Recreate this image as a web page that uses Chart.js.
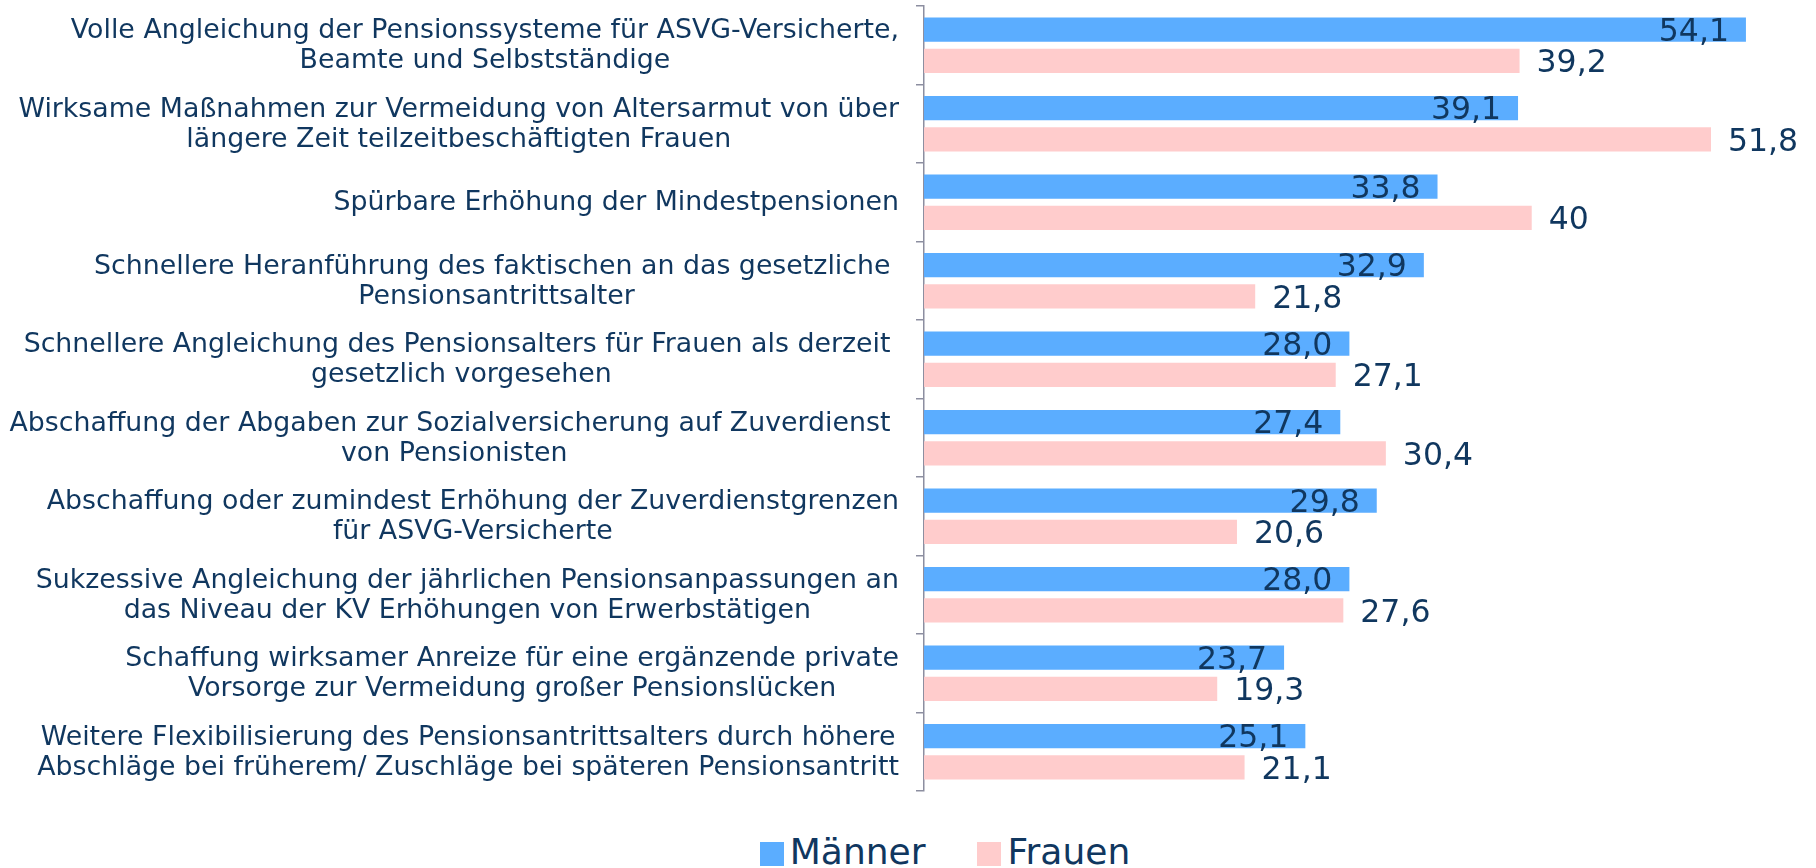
<!DOCTYPE html>
<html>
<head>
<meta charset="utf-8">
<script src="https://cdn.jsdelivr.net/npm/chart.js@4.4.1/dist/chart.umd.min.js"></script>
<style>
    html, body { margin: 0; padding: 0; background: #fff; overflow: hidden; }
    #wrap { position: relative; width: 1816px; height: 868px; }
    #legend { position: absolute; left: 0; top: 831px; width: 1890px; display: flex; justify-content: center;
        font-family: "DejaVu Sans", Verdana, sans-serif; font-size: 36px; color: #10375f; }
    #legend .item { display: flex; align-items: center; margin: 0 26px; }
    #legend .box { width: 24px; height: 24px; margin-right: 6px; margin-top: 5px; }
</style>
</head>
<body>
<div id="wrap">
    <canvas id="chart" width="1816" height="800"></canvas>
    <div id="legend"></div>
</div>
<script>
const categories = [
    ["Volle Angleichung der Pensionssysteme für ASVG-Versicherte,", "Beamte und Selbstständige"],
    ["Wirksame Maßnahmen zur Vermeidung von Altersarmut von über", "längere Zeit teilzeitbeschäftigten Frauen"],
    ["Spürbare Erhöhung der Mindestpensionen"],
    ["Schnellere Heranführung des faktischen an das gesetzliche ", "Pensionsantrittsalter"],
    ["Schnellere Angleichung des Pensionsalters für Frauen als derzeit ", "gesetzlich vorgesehen"],
    ["Abschaffung der Abgaben zur Sozialversicherung auf Zuverdienst ", "von Pensionisten"],
    ["Abschaffung oder zumindest Erhöhung der Zuverdienstgrenzen", "für ASVG-Versicherte"],
    ["Sukzessive Angleichung der jährlichen Pensionsanpassungen an", "das Niveau der KV Erhöhungen von Erwerbstätigen"],
    ["Schaffung wirksamer Anreize für eine ergänzende private", "Vorsorge zur Vermeidung großer Pensionslücken"],
    ["Weitere Flexibilisierung des Pensionsantrittsalters durch höhere", "Abschläge bei früherem/ Zuschläge bei späteren Pensionsantritt"]
];
const maenner = [54.1, 39.1, 33.8, 32.9, 28.0, 27.4, 29.8, 28.0, 23.7, 25.1];
const frauen = [39.2, 51.8, 40, 21.8, 27.1, 30.4, 20.6, 27.6, 19.3, 21.1];
const seriesNames = ["Männer", "Frauen"];
const seriesColors = ["#5badff", "#ffcccc"];

const textColor = "#10375f";
const fontFamily = "'DejaVu Sans', Verdana, sans-serif";

function fmt(v) {
    return v === 40 ? "40" : v.toFixed(1).replace(".", ",");
}

// category labels: block right-aligned, lines centered inside the block
const categoryLabels = {
    id: "categoryLabels",
    afterDraw(chart) {
        const ctx = chart.ctx;
        const yScale = chart.scales.y;
        const right = yScale.right - 25;
        ctx.save();
        ctx.font = "26.8px " + fontFamily;
        ctx.fillStyle = textColor;
        ctx.textAlign = "center";
        ctx.textBaseline = "middle";
        categories.forEach((lines, i) => {
            const cy = yScale.getPixelForTick(i);
            const widths = lines.map(l => ctx.measureText(l).width);
            const block = Math.max(...widths);
            const cx = right - block / 2;
            const lh = 30;
            const y0 = cy - (lines.length - 1) * lh / 2;
            lines.forEach((l, j) => {
                ctx.fillText(l, cx, y0 + j * lh + 1);
            });
        });
        ctx.restore();
    }
};

const valueLabels = {
    id: "valueLabels",
    afterDatasetsDraw(chart) {
        const ctx = chart.ctx;
        ctx.save();
        ctx.font = "31.5px " + fontFamily;
        ctx.fillStyle = textColor;
        ctx.textBaseline = "middle";
        chart.data.datasets.forEach((ds, di) => {
            const meta = chart.getDatasetMeta(di);
            meta.data.forEach((bar, i) => {
                const txt = fmt(ds.data[i]);
                if (di === 0) {
                    ctx.textAlign = "right";
                    ctx.fillText(txt, bar.x - 17, bar.y + 3);
                } else {
                    ctx.textAlign = "left";
                    ctx.fillText(txt, bar.x + 17, bar.y + 3);
                }
            });
        });
        ctx.restore();
    }
};

const ctx = document.querySelector("#chart").getContext("2d");

const chart = new Chart(ctx, {
    type: "bar",
    data: {
        labels: categories,
        datasets: [
            { label: seriesNames[0], data: maenner, backgroundColor: seriesColors[0] },
            { label: seriesNames[1], data: frauen, backgroundColor: seriesColors[1] }
        ]
    },
    options: {
        indexAxis: "y",
        responsive: false,
        animation: false,
        layout: { padding: { top: 6, right: 26, bottom: 9, left: 0 } },
        datasets: {
            bar: { categoryPercentage: 0.8, barPercentage: 0.77 }
        },
        scales: {
            x: { display: false, min: 0, max: 57 },
            y: {
                afterFit(scale) { scale.width = 924; },
                ticks: { display: false },
                grid: {
                    drawOnChartArea: false,
                    offset: true,
                    tickLength: 8,
                    color: "#8c8ea0",
                    lineWidth: 1.5
                },
                border: { color: "#8c8ea0", width: 1.5 }
            }
        },
        plugins: {
            legend: { display: false },
            tooltip: { enabled: false }
        }
    },
    plugins: [categoryLabels, valueLabels]
});

// html legend
const $legend = document.querySelector("#legend");
chart.data.datasets.forEach(ds => {
    const item = document.createElement("div");
    item.className = "item";
    const box = document.createElement("span");
    box.className = "box";
    box.style.background = ds.backgroundColor;
    const txt = document.createElement("span");
    txt.textContent = ds.label;
    item.appendChild(box);
    item.appendChild(txt);
    $legend.appendChild(item);
});
</script>
</body>
</html>
